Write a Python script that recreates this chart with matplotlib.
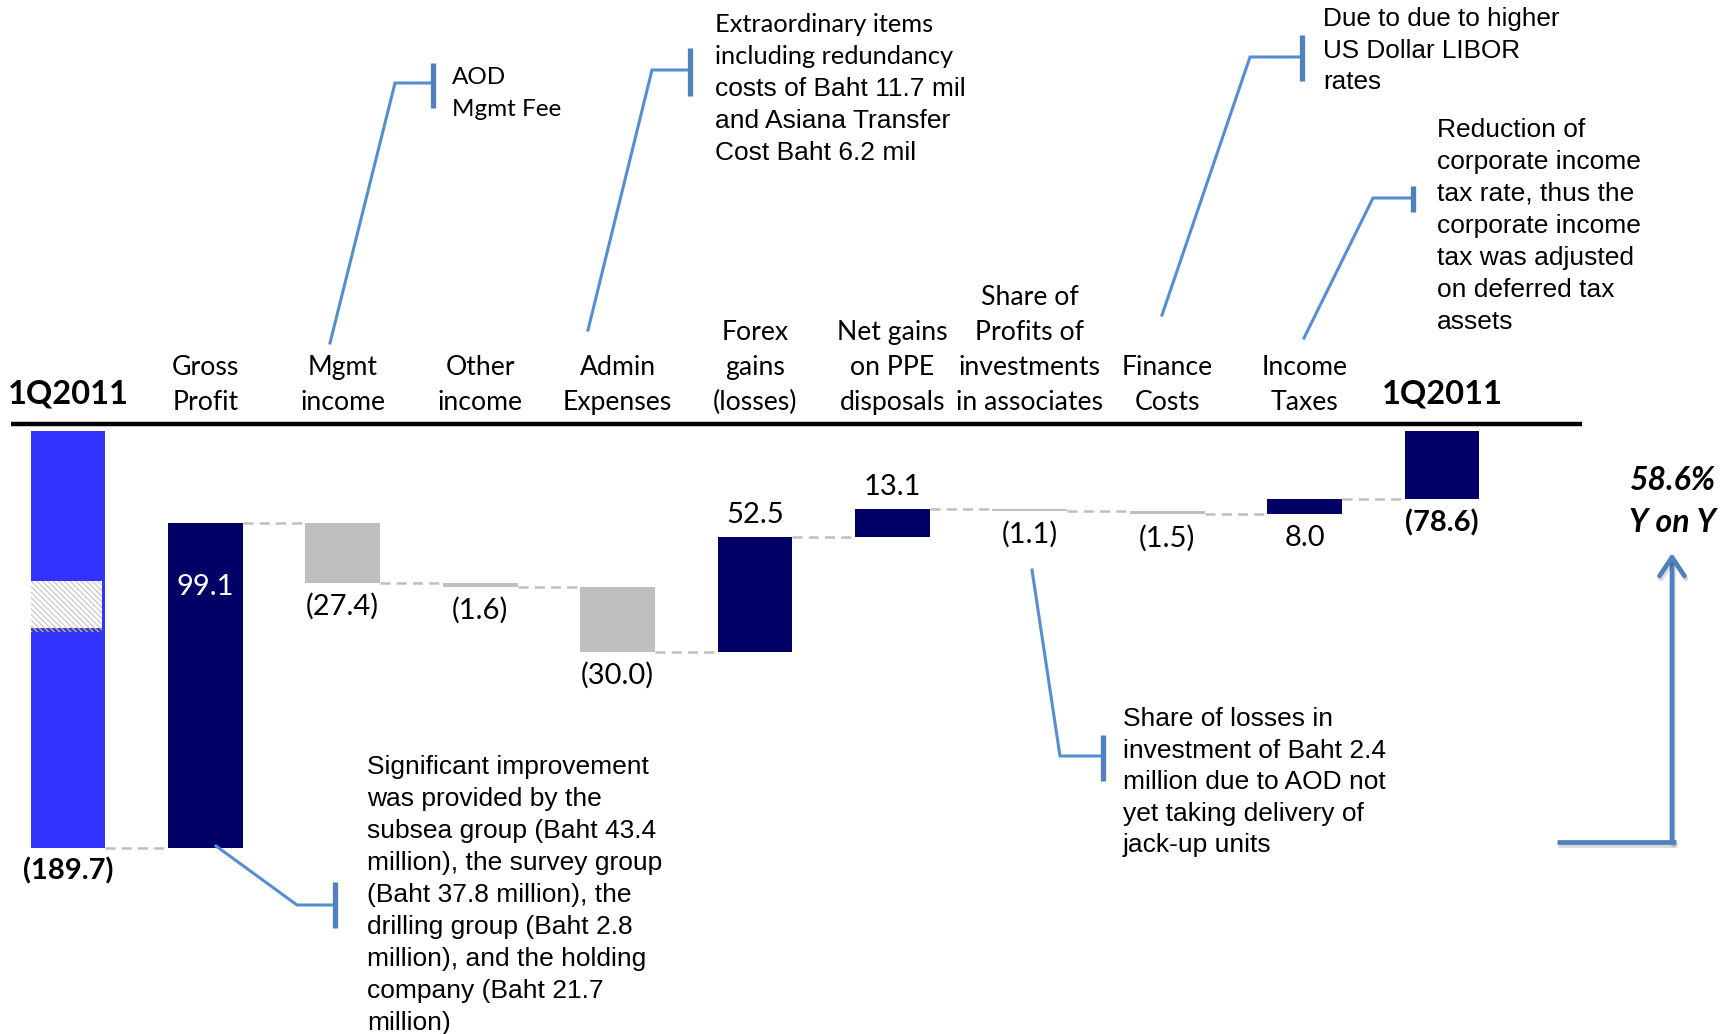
import numpy as np
import matplotlib.pyplot as plt
import matplotlib.transforms as mtransforms
import matplotlib.patheffects as pe
from matplotlib.lines import Line2D
from matplotlib.patches import Rectangle, FancyArrowPatch

W, H = 1735, 1034

# ---- data ---------------------------------------------------------------
categories = [
    ["1Q2011"],
    ["Gross", "Profit"],
    ["Mgmt", "income"],
    ["Other", "income"],
    ["Admin", "Expenses"],
    ["Forex", "gains", "(losses)"],
    ["Net gains", "on PPE", "disposals"],
    ["Share of", "Profits of", "investments", "in associates"],
    ["Finance", "Costs"],
    ["Income", "Taxes"],
    ["1Q2011"],
]
opening = -189.7
steps = [99.1, -27.4, -1.6, -30.0, 52.5, 13.1, -1.1, -1.5, 8.0]
closing = -78.6

note_mgmt = ["AOD", "Mgmt Fee"]
note_admin_a = ["Extraordinary items", "including redundancy"]
note_admin_b = ["costs of Baht 11.7 mil", "and Asiana Transfer", "Cost Baht 6.2 mil"]
note_finance = ["Due to due to higher", "US Dollar LIBOR", "rates"]
note_tax = ["Reduction of", "corporate income", "tax rate, thus the",
            "corporate income", "tax was adjusted", "on deferred tax", "assets"]
note_share = ["Share of losses in", "investment of Baht 2.4",
              "million due to AOD not", "yet taking delivery of", "jack-up units"]
note_gross = ["Significant improvement", "was provided by the",
              "subsea group (Baht 43.4", "million), the survey group",
              "(Baht 37.8 million), the", "drilling group (Baht 2.8",
              "million), and the holding", "company (Baht 21.7", "million)"]

# label placement relative to each bar
label_pos = ["below", "inside", "below", "below", "below", "above", "above",
             "below", "below", "below", "below"]

# ---- styles -------------------------------------------------------------
START_C = "#3333ff"
UP_C = "#000066"
DOWN_C = "#bfbfbf"
LEADER = "#558ed5"
BRACKET = "#4f81bd"
CAL = "Lato"
ARIAL = "Liberation Sans"

plt.rcParams["hatch.linewidth"] = 0.8

fig = plt.figure(figsize=(W / 100, H / 100), dpi=100)
ax = fig.add_axes([0, 0, 1, 1])

# piecewise scale: squeezed near zero, stretched below the break
sv = np.array([-1000, -190, -150, -80, 0, 1000], dtype=float)
sp = -np.array([849 + 810 * 4.9, 849, 653, 500, 431, 431 - 1000 * 0.8625])


def fwd(v):
    return np.interp(v, sv, sp)


def inv(y):
    return np.interp(y, sp, sv)


ax.set_yscale("function", functions=(fwd, inv))
x0, step = 68, 137.4
ax.set_xlim(-x0 / step, (W - x0) / step)
ax.set_ylim(inv(-H), inv(0))
ax.axis("off")

# pixel coordinates, y pointing down
pix = mtransforms.Affine2D().scale(1 / W, -1 / H).translate(0, 1) + fig.transFigure
xpix = mtransforms.blended_transform_factory(ax.transData, pix)

# ---- waterfall ------------------------------------------------------------
n = len(categories)
x = np.arange(n)
running = opening + np.cumsum(steps)
heights = [opening] + steps + [closing]
bottoms = [0.0, opening] + list(running[:-1]) + [0.0]
colors = [START_C] + [UP_C if s > 0 else DOWN_C for s in steps] + [UP_C]
bw = 0.545

ax.bar(x, heights, bottom=bottoms, width=bw, color=colors, zorder=2)

# dashed connectors at the running total
ends = [opening] + list(running)
for i, lvl in enumerate(ends):
    ax.plot([i + bw / 2, i + 1 - bw / 2], [lvl, lvl], color=DOWN_C, lw=1.8,
            ls=(0, (4, 2.5)), zorder=1)

# break marker on the opening bar
brk = Rectangle((-bw / 2, 581), bw * 0.96, 47, transform=xpix, facecolor="white",
                edgecolor="#c4c4c4", lw=0, hatch="\\\\\\\\\\\\", zorder=3,
                path_effects=[pe.SimplePatchShadow(offset=(0, -3), alpha=0.35),
                              pe.Normal()])
ax.add_artist(brk)

# value labels
for i, (b, h) in enumerate(zip(bottoms, heights)):
    lo, hi = min(b, b + h), max(b, b + h)
    txt = f"({abs(h):.1f})" if h < 0 else f"{h:.1f}"
    bold = i in (0, n - 1)
    pos = label_pos[i]
    if pos == "below":
        y, dy, c = lo, -17, "black"
    elif pos == "above":
        y, dy, c = hi, 16, "black"
    else:
        y, dy, c = hi, -46, "white"
    ax.annotate(txt, (i, y), xytext=(0, dy), textcoords="offset points",
                ha="center", va="center", family=CAL, size=21, color=c,
                fontweight="bold" if bold else "normal", zorder=4)

# category header row
for i, lines in enumerate(categories):
    if lines == ["1Q2011"]:
        ax.text(i, 403, lines[0], transform=xpix, ha="center", va="baseline",
                family=CAL, size=23.5, fontweight="bold")
        continue
    for k, line in enumerate(lines):
        ax.text(i, 410 - 35 * (len(lines) - 1 - k), line, transform=xpix,
                ha="center", va="baseline", family=CAL, size=19.2)

fig.add_artist(Line2D([11, 1582], [424, 424], transform=pix, color="black",
                      lw=3.2, solid_capstyle="butt"))


# ---- call-outs --------------------------------------------------------------
def callout(points, bracket):
    xs, ys = zip(*points)
    fig.add_artist(Line2D(xs, ys, transform=pix, color=LEADER, lw=2.2,
                          solid_joinstyle="miter"))
    bx, b0, b1 = bracket
    fig.add_artist(Line2D([bx, bx], [b0, b1], transform=pix, color=BRACKET,
                          lw=3.8, solid_capstyle="butt"))


def text_block(xl, y0, lines, family, size, gap=32):
    for k, line in enumerate(lines):
        fig.text(xl, y0 + k * gap, line, transform=pix, ha="left",
                 va="baseline", family=family, size=size)


callout([(330, 343), (395, 83), (433, 83)], (433, 63, 108))
text_block(452, 84, note_mgmt, CAL, 17.5)

callout([(588, 330), (652, 70), (690, 70)], (690, 48, 96))
text_block(715, 32, note_admin_a, CAL, 18.3)
text_block(715, 96, note_admin_b, ARIAL, 19)

callout([(1162, 315), (1250, 57), (1302, 57)], (1302, 35, 81))
text_block(1323, 26, note_finance, ARIAL, 18.8, gap=31.5)

callout([(1304, 338), (1373, 198), (1413, 198)], (1413, 186, 212))
text_block(1437, 137, note_tax, ARIAL, 19)

callout([(1032, 570), (1060, 756), (1103, 756)], (1103, 735, 781))
text_block(1123, 726, note_share, ARIAL, 19, gap=31.5)

callout([(216, 846), (297, 905), (335, 905)], (335, 882, 928))
text_block(367, 774, note_gross, ARIAL, 19, gap=32)

# year-on-year change
yoy = (closing - opening) / abs(opening) * 100
for k, line in enumerate([f"{yoy:.1f}%", "Y on Y"]):
    fig.text(1673, 490 + 42 * k, line, transform=pix, ha="center",
             va="baseline", family=CAL, size=23, fontweight="bold",
             fontstyle="italic")

shadow = [pe.SimpleLineShadow(offset=(1, -2), alpha=0.15), pe.Normal()]
fig.add_artist(FancyArrowPatch((1672, 842), (1672, 553), transform=pix,
                               arrowstyle="->,head_length=0.45,head_width=0.3",
                               mutation_scale=30, color=BRACKET, lw=3.4,
                               shrinkA=0, shrinkB=0, path_effects=shadow))
fig.add_artist(Line2D([1557, 1676], [842, 842], transform=pix, color=BRACKET,
                      lw=3.4, solid_capstyle="butt", path_effects=shadow))

fig.savefig("out.png", dpi=100)
